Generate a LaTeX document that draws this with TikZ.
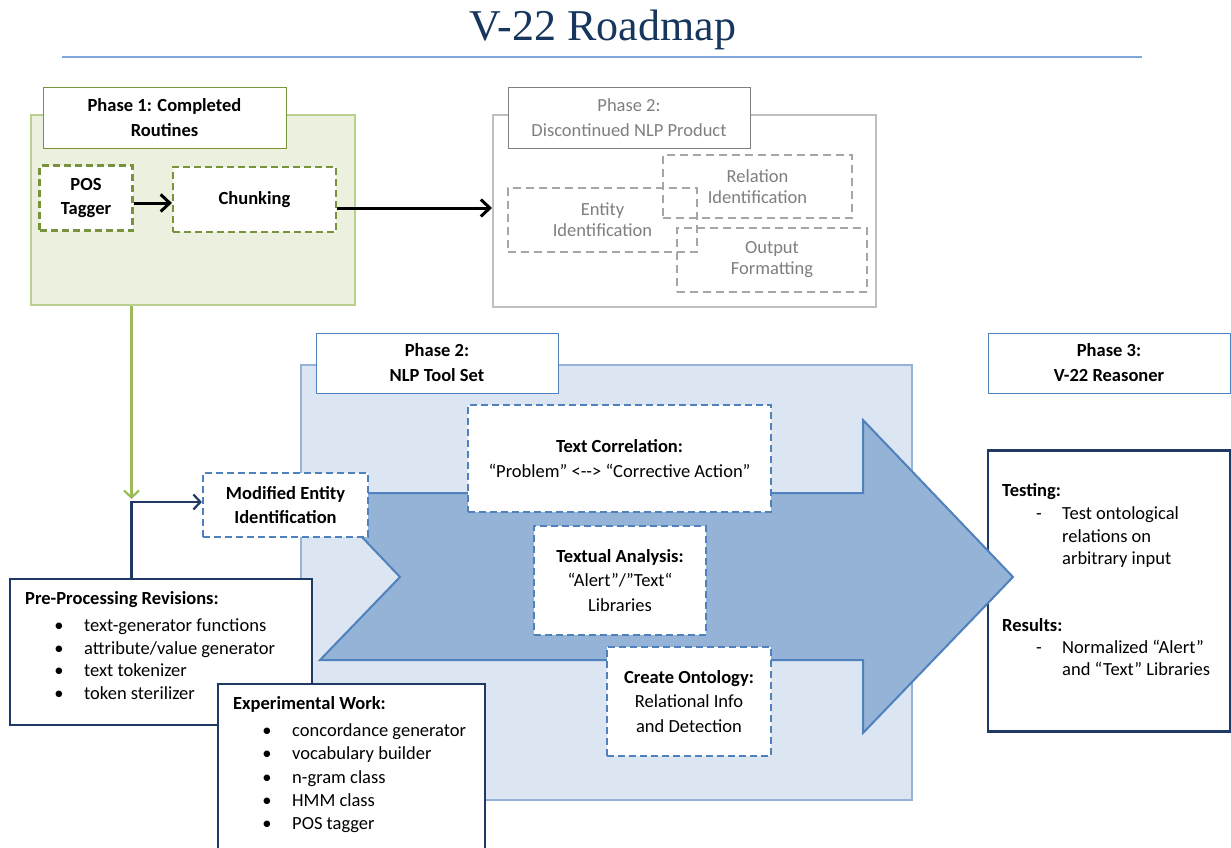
\documentclass[tikz,border=0pt]{standalone}
\usepackage{fontspec}
\setmainfont{Carlito}
\newfontfamily\titlefont{Liberation Serif}
\usetikzlibrary{arrows.meta,calc}
\definecolor{titlecol}{HTML}{17365D}
\definecolor{rulecol}{HTML}{7FA7D9}
\definecolor{gfill}{HTML}{EBF1DE}
\definecolor{gborder}{HTML}{B9D18C}
\definecolor{golive}{HTML}{77933C}
\definecolor{garrow}{HTML}{9BBB59}
\definecolor{grayborder}{HTML}{BFBFBF}
\definecolor{graydark}{HTML}{7F7F7F}
\definecolor{graydash}{HTML}{A6A6A6}
\definecolor{bfill}{HTML}{DCE6F2}
\definecolor{bborder}{HTML}{95B3D7}
\definecolor{bmid}{HTML}{4F81BD}
\definecolor{navy}{HTML}{1F3864}
\begin{document}
\begin{tikzpicture}[x=1pt,y=-1pt,
  box/.style={draw, inner sep=0pt, align=center, font=\fontsize{18.5}{24.5}\selectfont},
  gdash/.style={box, draw=golive, fill=white, line width=2.2pt, dash pattern=on 7pt off 4pt},
  graybox/.style={box, draw=graydash, line width=2pt, dash pattern=on 8pt off 5pt, text=graydark, font=\fontsize{18.5}{21}\selectfont},
  bdash/.style={box, draw=bmid, fill=white, line width=2.2pt, dash pattern=on 7pt off 4pt},
  labelbox/.style={box, fill=white, line width=1pt, font=\fontsize{18.5}{25}\selectfont},
  navybox/.style={draw=navy, fill=white, line width=2.5pt, inner sep=0pt},
  txt/.style={inner sep=0pt, font=\fontsize{18.5}{22}\selectfont, text height=12.5pt, text depth=3.5pt},
  blackarrow/.style={line width=3pt, -{Straight Barb[length=9pt,width=17pt]}},
  greenarrow/.style={draw=garrow, line width=2.2pt, -{Straight Barb[length=7pt,width=15pt]}},
  navyarrow/.style={draw=navy, line width=2.2pt, -{Straight Barb[length=7pt,width=15pt]}}
]
\useasboundingbox (0,0) rectangle (1231,848);
\fill[white] (0,0) rectangle (1231,848);

% title
\node[inner sep=0pt, text=titlecol, font=\titlefont\fontsize{44}{50}\selectfont] (title) at (603,30) {V-22 Roadmap};
\draw[rulecol, line width=1.3pt] (62,57) -- (1142,57);

% Phase 1
\node[draw=gborder, fill=gfill, line width=2pt, minimum width=324pt, minimum height=190pt, inner sep=0pt] (p1c) at (193,210) {};
\node[labelbox, draw=golive, minimum width=243pt, minimum height=60pt] (p1l) at (164.5,118) {\bfseries Phase 1: Completed\\\bfseries Routines};
\node[gdash, minimum width=93pt, minimum height=65pt] (pos) at (86,198) {\bfseries POS\\\bfseries Tagger};
\node[gdash, minimum width=163pt, minimum height=65pt] (chunk) at (254.5,199.5) {\bfseries Chunking};
\coordinate (pa) at ($(pos.east)+(0,5)$);
\draw[blackarrow] (pa) -- (pa -| chunk.west);

% Phase 2 discontinued
\node[draw=grayborder, fill=white, line width=2pt, minimum width=383pt, minimum height=191pt, inner sep=0pt] (p2c) at (684.5,211) {};
\node[labelbox, draw=graydark, text=graydark, minimum width=242pt, minimum height=60pt] (p2l) at (629,118) {Phase 2:\\Discontinued NLP Product};
\node[graybox, minimum width=189pt, minimum height=64pt] (entity) at (602.5,220) {Entity\\Identification};
\node[graybox, minimum width=189pt, minimum height=63pt] (relation) at (757.5,186.5) {Relation\\Identification};
\node[graybox, minimum width=190pt, minimum height=64pt] (output) at (772,260) {Output\\Formatting};
\coordinate (ca) at ($(chunk.east)+(0,8.5)$);
\draw[blackarrow] (ca) -- (ca -| p2c.west);

% Phase 2 NLP tool set
\node[draw=bborder, fill=bfill, line width=2pt, minimum width=611pt, minimum height=435pt, inner sep=0pt] (p2nc) at (606.5,582.5) {};
\node[labelbox, draw=bmid, minimum width=242pt, minimum height=60pt] (p2nl) at (437,363) {\bfseries Phase 2:\\\bfseries NLP Tool Set};

% Phase 3
\node[labelbox, draw=bmid, minimum width=242pt, minimum height=60pt] (p3l) at (1109,363) {\bfseries Phase 3:\\\bfseries V-22 Reasoner};
\node[navybox, minimum width=242pt, minimum height=281pt] (p3) at (1109,591) {};

% big arrow
\draw[fill=bborder, draw=bmid, line width=2pt, line join=miter]
  (320,493) -- (863,493) -- (863,420) -- (1013,577) -- (863,733) -- (863,660) -- (320,660) -- (400,577) -- cycle;

% tool boxes
\node[bdash, minimum width=303pt, minimum height=107pt] (tc) at (619.5,458.5) {\bfseries Text Correlation:\\“Problem” <-{}-> “Corrective Action”};
\node[bdash, minimum width=172pt, minimum height=109pt] (ta) at (620,580.5) {\bfseries Textual Analysis:\\“Alert”/”Text“\\Libraries};
\node[bdash, minimum width=164pt, minimum height=109pt] (co) at (689,701.5) {\bfseries Create Ontology:\\Relational Info\\and Detection};
\node[bdash, minimum width=165pt, minimum height=64pt] (mei) at (285.5,505) {\bfseries Modified Entity\\\bfseries Identification};

% pre-processing box
\node[navybox, minimum width=302pt, minimum height=146pt] (pre) at (161,652) {};
% experimental work box (runs past the bottom edge)
\node[navybox, minimum width=267pt, minimum height=190pt] (exp) at (351.5,779) {};

% connectors
\coordinate (j) at (131.5,502);
\draw[greenarrow, shorten >=3pt] (p1c.south -| j) -- (j);
\draw[navyarrow] (pre.north -| j) -- (j) -- (mei.west |- j);

% pre-processing text
\node[txt, anchor=west] (pret) at (25,600) {\bfseries Pre-Processing Revisions:};
\foreach \t [count=\i] in {text-generator functions, attribute/value generator, text tokenizer, token sterilizer} {
  \node[txt] (preb\i) at (59,604.5+22.5*\i) {•};
  \node[txt, anchor=west] (prel\i) at (84,604.5+22.5*\i) {\t};
}

% experimental text
\node[txt, anchor=west] (expt) at (233,705) {\bfseries Experimental Work:};
\foreach \t [count=\i] in {concordance generator, vocabulary builder, n-gram class, HMM class, POS tagger} {
  \node[txt] (expb\i) at (267,709+23.2*\i) {•};
  \node[txt, anchor=west] (expl\i) at (292,709+23.2*\i) {\t};
}

% phase 3 text
\node[txt, anchor=west] (test) at (1002,492) {\bfseries Testing:};
\node[txt] (testd) at (1039,515) {-};
\node[txt, anchor=west] (test1) at (1062,515) {Test ontological};
\node[txt, anchor=west] (test2) at (1062,537.5) {relations on};
\node[txt, anchor=west] (test3) at (1062,560) {arbitrary input};
\node[txt, anchor=west] (res) at (1002,627) {\bfseries Results:};
\node[txt] (resd) at (1039,649) {-};
\node[txt, anchor=west] (res1) at (1062,649) {Normalized “Alert”};
\node[txt, anchor=west] (res2) at (1062,671) {and “Text” Libraries};
\end{tikzpicture}
\end{document}
